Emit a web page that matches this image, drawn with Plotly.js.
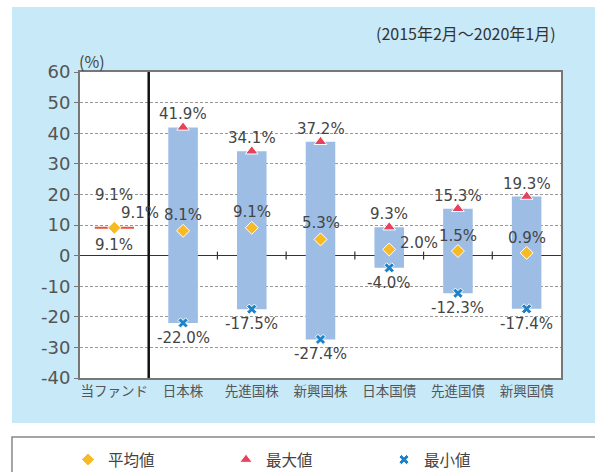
<!DOCTYPE html>
<html>
<head>
<meta charset="utf-8">
<script src="https://cdn.plot.ly/plotly-3.0.1.min.js"></script>
<style>
  html, body { margin: 0; padding: 0; background: #fff; }
  #chart { width: 595px; height: 472px; }
</style>
</head>
<body>
<div id="chart"></div>
<script>
// データ（2015年2月～2020年1月）
const categories = ['当ファンド', '日本株', '先進国株', '新興国株', '日本国債', '先進国債', '新興国債'];
const maxVals = [9.1, 41.9, 34.1, 37.2, 9.3, 15.3, 19.3];
const avgVals = [9.1, 8.1, 9.1, 5.3, 2.0, 1.5, 0.9];
const minVals = [9.1, -22.0, -17.5, -27.4, -4.0, -12.3, -17.4];
const yTicks = [-40, -30, -20, -10, 0, 10, 20, 30, 40, 50, 60];

const font = '"Noto Sans CJK JP", "Noto Sans", sans-serif';
const numFont = '"DejaVu Sans", "Noto Sans CJK JP", sans-serif';
const txtColor = '#444';

// ラベルのずらし量 (px)
const maxShift = [[0, 33], [0, 13], [0, 13], [0, 13], [0, 13], [0, 13], [0, 13]];
const avgShift = [[26, 15], [0, 16], [0, 16], [0, 16], [30, 6], [0, 15], [0, 15]];
const minShift = [[0, -17], [0, -15], [0, -15], [0, -15], [0, -15], [0, -15], [0, -15]];

// レンジバー（最小～最大）
const rangeBar = {
  type: 'bar',
  x: categories,
  y: maxVals.map((m, i) => m - minVals[i]),
  base: minVals,
  width: 0.43,
  marker: {color: '#9dbde4'},
  showlegend: false,
  hoverinfo: 'skip'
};

// 当ファンドは幅ゼロなので赤い線で表示
const fundLine = {
  type: 'scatter',
  mode: 'markers',
  x: categories.slice(0, 1),
  y: maxVals.slice(0, 1),
  marker: {symbol: 'line-ew', size: 28, line: {color: '#e4553a', width: 2}},
  showlegend: false,
  hoverinfo: 'skip'
};

const avgTrace = {
  type: 'scatter', mode: 'markers', name: '平均値',
  x: categories, y: avgVals,
  marker: {symbol: 'diamond', size: 10, color: '#f7b924', line: {color: '#fff', width: 1}}
};
// 当ファンドは最大・最小の記号を出さない
const maxTrace = {
  type: 'scatter', mode: 'markers', name: '最大値',
  x: categories.slice(1), y: maxVals.slice(1),
  marker: {symbol: 'triangle-up', size: 11, color: '#e5435d', line: {color: '#fff', width: 1}}
};
const minTrace = {
  type: 'scatter', mode: 'markers', name: '最小値',
  x: categories.slice(1), y: minVals.slice(1),
  marker: {symbol: 'x', size: 9, color: '#1f82c8', line: {color: '#fff', width: 1}}
};

// データラベル
const annotations = [];
const fmt = v => v.toFixed(1) + '%';
categories.forEach((c, i) => {
  [[maxVals, maxShift], [avgVals, avgShift], [minVals, minShift]].forEach(([vals, sh]) => {
    annotations.push({
      x: c, y: vals[i], xref: 'x', yref: 'y',
      text: fmt(vals[i]), showarrow: false,
      xshift: sh[i][0], yshift: sh[i][1],
      font: {family: numFont, size: 15, color: txtColor}
    });
  });
});
annotations.push({
  xref: 'paper', yref: 'paper', x: 0.994, y: 1.127, xanchor: 'right', yanchor: 'middle',
  text: '(2015年2月～2020年1月)', showarrow: false,
  font: {family: font, size: 16, color: '#333'}
});
annotations.push({
  xref: 'paper', yref: 'paper', x: -0.006, y: 1.036, xanchor: 'left', yanchor: 'middle',
  text: '(%)', showarrow: false,
  font: {family: font, size: 16, color: '#444'}
});

// 背景パネル・凡例枠・区切り線
const shapes = [
  {type: 'rect', xref: 'paper', yref: 'paper', x0: -0.1414, x1: 1.08, y0: -0.147, y1: 1.2124,
   fillcolor: '#c8e9f8', line: {width: 0}, layer: 'below'},
  {type: 'rect', xref: 'paper', yref: 'paper', x0: 0, x1: 1, y0: 0, y1: 1,
   fillcolor: '#fff', line: {width: 0}, layer: 'below'},
  {type: 'rect', xref: 'paper', yref: 'paper', x0: -0.1414, x1: 1.1, y0: -0.193, y1: -0.34,
   fillcolor: '#fff', line: {color: '#888', width: 1.5}, layer: 'below'},
  {type: 'line', xref: 'x', yref: 'y', x0: 0.5, x1: 0.5, y0: -40, y1: 60,
   line: {color: '#111', width: 2.5}}
];
for (let k = 1; k < categories.length - 1; k++) {
  shapes.push({type: 'line', xref: 'x', yref: 'y', x0: k + 0.5, x1: k + 0.5, y0: -1.3, y1: 1.3,
    line: {color: '#333', width: 1.2}});
}

const layout = {
  width: 595, height: 472,
  margin: {l: 80, r: 34, t: 72, b: 94, autoexpand: false},
  paper_bgcolor: '#fff',
  plot_bgcolor: 'rgba(0,0,0,0)',
  font: {family: font, color: txtColor},
  barmode: 'overlay',
  xaxis: {
    type: 'category',
    range: [-0.5, categories.length - 0.5],
    showgrid: false, zeroline: false,
    showline: true, mirror: true, linecolor: '#777', linewidth: 2,
    ticks: '', tickfont: {family: font, size: 13.5, color: '#555'}
  },
  yaxis: {
    range: [-40, 60],
    tickvals: yTicks,
    ticktext: yTicks.map(String),
    showgrid: true, gridcolor: '#999', gridwidth: 1, griddash: '3px,2px',
    zeroline: true, zerolinecolor: '#333', zerolinewidth: 1.5,
    showline: true, mirror: true, linecolor: '#777', linewidth: 2,
    ticks: 'outside', ticklen: 4, tickcolor: '#777',
    tickfont: {family: numFont, size: 18, color: '#555'}
  },
  legend: {
    orientation: 'h', x: -0.025, y: -0.268, xanchor: 'left', yanchor: 'middle',
    bgcolor: 'rgba(0,0,0,0)', entrywidth: 113,
    font: {family: font, size: 15.5, color: txtColor}
  },
  shapes: shapes,
  annotations: annotations
};

Plotly.newPlot('chart', [rangeBar, fundLine, avgTrace, maxTrace, minTrace], layout, {staticPlot: true});
</script>
</body>
</html>
